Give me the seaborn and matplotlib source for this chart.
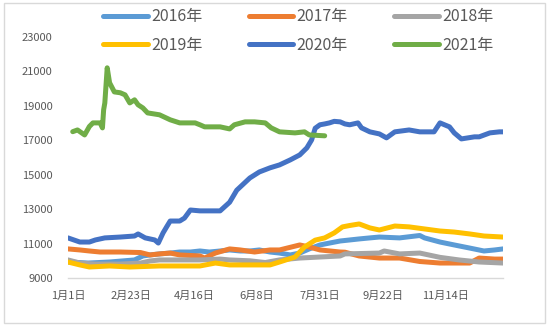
import matplotlib
matplotlib.use("Agg")
import matplotlib.pyplot as plt
import numpy as np
import pandas as pd
import seaborn as sns
from matplotlib.patches import Rectangle
from matplotlib.lines import Line2D

# ---------------- data (day of year -> value) ----------------
years = ["2016年", "2017年", "2018年", "2019年", "2020年", "2021年"]
colors = ["#5B9BD5", "#ED7D31", "#A5A5A5", "#FFC000", "#4472C4", "#70AD47"]

days_2016 = [0, 17, 35, 56, 63, 69, 77, 86, 94, 103, 111, 119, 128, 136, 145, 153, 161, 170, 178,
             187, 195, 203, 212, 220, 229, 237, 245, 254, 262, 279, 296, 300, 313, 325, 338, 350, 359, 366]
vals_2016 = [9930, 9870, 9930, 10050, 10280, 10340, 10400, 10450, 10510, 10510, 10570, 10510, 10570,
             10630, 10570, 10570, 10630, 10510, 10450, 10340, 10450, 10690, 10920, 11030, 11150, 11210,
             11270, 11330, 11380, 11330, 11470, 11330, 11090, 10920, 10740, 10570, 10630, 10690]

days_2017 = [0, 10, 18, 27, 44, 61, 69, 77, 86, 94, 111, 115, 124, 136, 145, 157, 170, 178, 195, 203,
             212, 229, 233, 245, 262, 279, 296, 313, 329, 338, 346, 359, 366]
vals_2017 = [10690, 10630, 10570, 10510, 10510, 10480, 10340, 10400, 10450, 10340, 10280, 10160, 10450,
             10690, 10630, 10510, 10630, 10630, 10920, 10800, 10630, 10510, 10500, 10280, 10160, 10160,
             9960, 9870, 9870, 9870, 10160, 10100, 10100]

days_2018 = [0, 10, 23, 44, 61, 69, 77, 94, 111, 128, 136, 153, 166, 178, 195, 212, 229, 233, 262,
             266, 279, 296, 313, 329, 346, 366]
vals_2018 = [10050, 9870, 9810, 9810, 9870, 9990, 10050, 10050, 10050, 10100, 10050, 10000, 9900,
             10050, 10160, 10220, 10280, 10400, 10450, 10570, 10400, 10450, 10200, 10050, 9930, 9870]

days_2019 = [0, 10, 18, 35, 52, 77, 111, 124, 136, 153, 170, 178, 191, 199, 208, 216, 224, 231, 237,
             245, 254, 262, 275, 287, 300, 313, 325, 338, 350, 366]
vals_2019 = [9930, 9760, 9640, 9700, 9640, 9700, 9700, 9870, 9760, 9760, 9760, 9930, 10220, 10800,
             11200, 11330, 11620, 11970, 12050, 12140, 11910, 11790, 12020, 11970, 11850, 11730, 11670,
             11560, 11440, 11380]

days_2020 = [0, 10, 18, 23, 31, 44, 56, 59, 65, 73, 76, 80, 83, 86, 94, 98, 103, 111, 119, 128, 136,
             142, 153, 161, 170, 178, 187, 195, 201, 205, 208, 212, 216, 220, 224, 229, 233, 237, 244,
             247, 254, 262, 268, 275, 287, 296, 308, 313, 321, 325, 331, 342, 346, 355, 363, 366]
vals_2020 = [11330, 11090, 11090, 11210, 11330, 11380, 11440, 11560, 11330, 11210, 11030, 11620, 11970,
             12310, 12310, 12480, 12950, 12900, 12900, 12900, 13400, 14100, 14810, 15160, 15400, 15570,
             15860, 16150, 16560, 17020, 17700, 17900, 17950, 18010, 18100, 18070, 17950, 17900, 18010,
             17720, 17490, 17370, 17140, 17490, 17600, 17490, 17490, 18010, 17780, 17430, 17080, 17200,
             17200, 17430, 17490, 17490]

days_2021 = [4, 8, 14, 18, 21, 27, 29, 30, 31, 33, 35, 39, 44, 48, 52, 56, 59, 63, 67, 77, 86, 94,
             107, 111, 115, 128, 136, 140, 149, 157, 166, 171, 178, 191, 199, 203, 216]
vals_2021 = [17500, 17600, 17310, 17800, 18010, 18010, 17720, 18770, 19170, 21210, 20340, 19810, 19760,
             19640, 19170, 19350, 19060, 18880, 18590, 18480, 18190, 18010, 18010, 17900, 17780, 17780,
             17660, 17900, 18070, 18070, 18010, 17720, 17490, 17430, 17490, 17310, 17260]

tick_days = [0, 53, 106, 159, 212, 265, 318]
tick_labels = ["1月1日", "2月23日", "4月16日", "6月8日", "7月31日", "9月22日", "11月14日"]
yticks = [9000, 11000, 13000, 15000, 17000, 19000, 21000, 23000]

series = {
    "2016年": (days_2016, vals_2016),
    "2017年": (days_2017, vals_2017),
    "2018年": (days_2018, vals_2018),
    "2019年": (days_2019, vals_2019),
    "2020年": (days_2020, vals_2020),
    "2021年": (days_2021, vals_2021),
}
frames = [pd.DataFrame({"day": d, "value": v, "year": y}) for y, (d, v) in series.items()]
df = pd.concat(frames, ignore_index=True)

# ---------------- style ----------------
sns.set_style("white")
plt.rcParams["font.family"] = ["Noto Sans CJK SC", "DejaVu Sans"]

fig, ax = plt.subplots(figsize=(5.5, 3.27), dpi=100)
fig.subplots_adjust(left=0.1236, right=0.9145, bottom=0.1498, top=0.8869)

palette = dict(zip(years, colors))
sns.lineplot(data=df, x="day", y="value", hue="year", hue_order=years, palette=palette,
             estimator=None, sort=True, linewidth=3.6, ax=ax, legend=False)
for ln in ax.get_lines():
    ln.set_solid_capstyle("round")
    ln.set_solid_joinstyle("round")

ax.set_xlim(0, 366)
ax.set_ylim(9000, 23000)
ax.set_xticks(tick_days)
ax.set_xticklabels(tick_labels)
ax.set_yticks(yticks)
ax.set_yticklabels([str(t) for t in yticks])
ax.tick_params(axis="both", length=0, labelsize=8, labelcolor="#595959")
ax.tick_params(axis="x", pad=9)
ax.tick_params(axis="y", pad=11)
ax.set_xlabel("")
ax.set_ylabel("")
for s in ["top", "right", "left"]:
    ax.spines[s].set_visible(False)
ax.spines["bottom"].set_color("#D9D9D9")
ax.spines["bottom"].set_linewidth(1.0)
ax.grid(False)

# legend: rows 2016/2017/2018 and 2019/2020/2021
order = [0, 3, 1, 4, 2, 5]
handles = [Line2D([0], [0], color=colors[i], lw=3.6, solid_capstyle="round") for i in order]
labels = [years[i] for i in order]
fig.legend(handles, labels, ncol=3, loc="center", bbox_to_anchor=(0.542, 0.905),
           frameon=False, fontsize=11.5, handlelength=2.8, handletextpad=0.2,
           columnspacing=2.9, labelspacing=0.7, borderpad=0, labelcolor="#595959")

# outer chart border
fig.patches.append(Rectangle((0.007, 0.012), 0.984, 0.979, transform=fig.transFigure,
                             fill=False, edgecolor="#D9D9D9", linewidth=1.0))

fig.savefig("out.png", dpi=100)
